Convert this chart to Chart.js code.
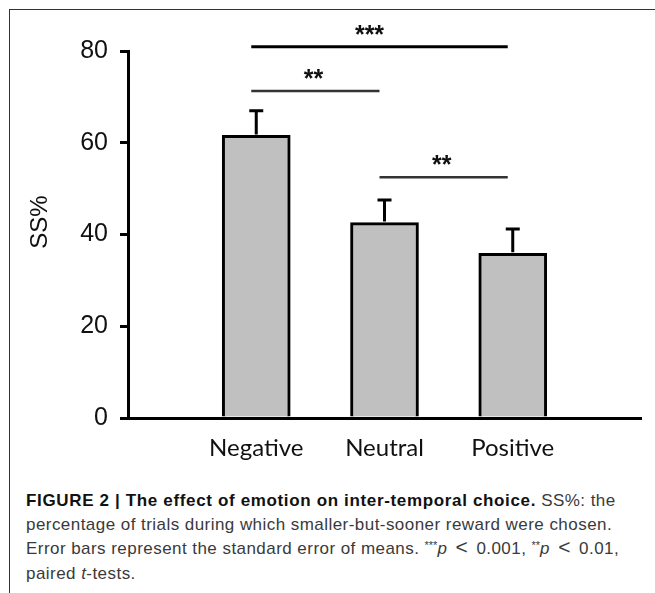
<!DOCTYPE html>
<html>
<head>
<meta charset="utf-8">
<script src="https://cdn.jsdelivr.net/npm/chart.js@4"></script>
<style>
  html, body { margin: 0; padding: 0; background: #fff; }
  #page { position: relative; width: 655px; height: 593px; overflow: hidden; }
  #frame { position: absolute; left: 9px; top: 9px; right: -5px; bottom: -5px;
           border-top: 1.5px solid #333; border-left: 1.5px solid #333; }
  #chart { position: absolute; left: 0; top: 0; }
  #caption { position: absolute; left: 26px; top: 489px; width: 625px;
             font-family: "Liberation Sans", Arial, sans-serif; font-size: 17px;
             letter-spacing: 0.45px; line-height: 24px; color: #3a3a3a; white-space: nowrap; }
  #caption b { color: #111; letter-spacing: 0.65px; }
  #caption .st { font-size: 11px; position: relative; top: -5px; letter-spacing: 0; }
  #caption .lt { font-size: 21px; line-height: 10px; margin: 0 3px; }
</style>
</head>
<body>
<div id="page">
  <div id="frame"></div>
  <canvas id="chart" width="655" height="470"></canvas>
  <div id="caption">
    <b>FIGURE 2 | The effect of emotion on inter-temporal choice.</b> SS%: the<br>
    percentage of trials during which smaller-but-sooner reward were chosen.<br>
    Error bars represent the standard error of means. <span class="st">***</span><i>p</i> <span class="lt">&lt;</span> 0.001, <span class="st">**</span><i>p</i> <span class="lt">&lt;</span> 0.01,<br>
    paired <i>t</i>-tests.
  </div>
</div>
<script>
const categories = ['Negative', 'Neutral', 'Positive']
const means = [61.6, 42.6, 35.9]
const errors = [5.4, 4.9, 5.3]
const yTicks = [0, 20, 40, 60, 80]

// significance brackets: group index from, to, height (in %), stars
const sigFrom = [0, 0, 1]
const sigTo = [2, 1, 2]
const sigLevel = [80.9, 71.3, 52.5]
const sigStars = ['***', '**', '**']

// blank slots either side so the x axis runs past the outer bars
const labels = [''].concat(categories, [''])
const barData = [null].concat(means, [null])

const extras = {
    id: 'extras',
    afterDatasetsDraw(chart) {
        const ctx = chart.ctx
        const x = chart.scales.x
        const y = chart.scales.y
        const bars = chart.getDatasetMeta(0).data

        ctx.save()
        ctx.strokeStyle = '#000'
        ctx.lineWidth = 3
        means.forEach(function(m, i) {
            const bar = bars[i + 1]
            const top = y.getPixelForValue(m + errors[i])
            ctx.beginPath()
            ctx.moveTo(bar.x, y.getPixelForValue(m) - 1)
            ctx.lineTo(bar.x, top)
            ctx.moveTo(bar.x - 7, top)
            ctx.lineTo(bar.x + 7, top)
            ctx.stroke()
        })

        ctx.fillStyle = '#111'
        ctx.font = 'bold 25px "Liberation Sans", Arial'
        ctx.textAlign = 'center'
        ctx.textBaseline = 'alphabetic'
        sigStars.forEach(function(s, i) {
            const x1 = x.getPixelForValue(sigFrom[i] + 1) - 5
            const x2 = x.getPixelForValue(sigTo[i] + 1) - 5
            const ly = y.getPixelForValue(sigLevel[i])
            ctx.lineWidth = i === 0 ? 3 : 2.5
            ctx.strokeStyle = i === 0 ? '#000' : '#333'
            ctx.beginPath()
            ctx.moveTo(x1, ly)
            ctx.lineTo(x2, ly)
            ctx.stroke()
            // the wide bracket's stars sit a little left of centre in the original
            const sx = (x1 + x2) / 2 - (i === 0 ? 10 : 2)
            ctx.fillText(s, sx, ly - 4)
        })

        // y axis title
        ctx.translate(40, 222)
        ctx.rotate(-Math.PI / 2)
        ctx.font = '24px "Liberation Sans", Arial'
        ctx.textBaseline = 'middle'
        ctx.fillStyle = '#111'
        ctx.fillText('SS%', 0, 0)
        ctx.restore()
    }
}

new Chart(document.getElementById('chart'), {
    type: 'bar',
    data: {
        labels: labels,
        datasets: [{
            data: barData,
            backgroundColor: '#c0c0c0',
            borderColor: '#000',
            borderWidth: 3,
            barThickness: 68
        }]
    },
    options: {
        responsive: false,
        devicePixelRatio: 1,
        animation: false,
        layout: { padding: { top: 51, right: 14, bottom: 0, left: 0 } },
        plugins: { legend: { display: false }, tooltip: { enabled: false } },
        scales: {
            x: {
                offset: false,
                grid: { display: false },
                border: { display: true, color: '#000', width: 3 },
                ticks: {
                    color: '#111',
                    font: { family: 'Lato', size: 24 },
                    padding: 8,
                    maxRotation: 0,
                    autoSkip: false
                },
                afterFit: function(s) { s.height = 52 }
            },
            y: {
                min: 0,
                max: 80,
                afterBuildTicks: function(s) { s.ticks = yTicks.map(v => ({ value: v })) },
                grid: { drawOnChartArea: false, color: '#000', lineWidth: 3, tickLength: 8 },
                border: { display: true, color: '#000', width: 3 },
                ticks: {
                    color: '#111',
                    font: { family: 'Liberation Sans', size: 25 },
                    padding: 12
                },
                afterFit: function(s) { s.width = 128 }
            }
        }
    },
    plugins: [extras]
})
</script>
</body>
</html>
